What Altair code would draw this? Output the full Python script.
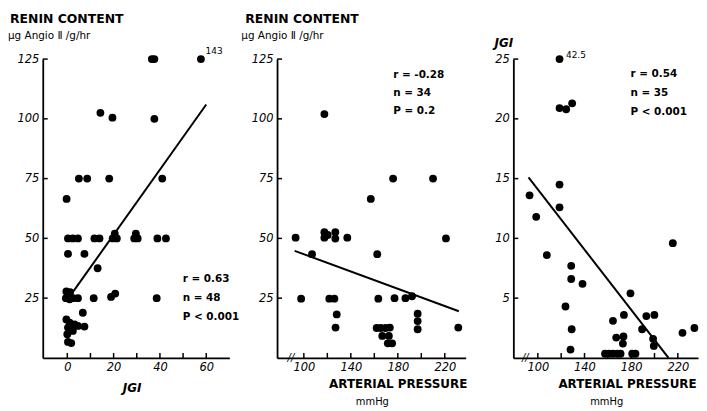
import altair as alt
import pandas as pd

# ---------------- Panel A: renin content vs JGI ----------------
a_jgi = [36.5, 37.6, 57.7,
         14.3, 19.5, 37.6,
         5.0, 8.6, 18.1, 41.0,
         -0.3,
         0.3, 2.4, 4.6, 11.7, 13.9, 19.6, 21.4, 20.5, 28.9, 30.4, 29.6, 38.9, 42.6,
         0.3, 7.4,
         13.1,
         -0.4, 1.2, -0.6, 1.0, 2.6, 4.6, 11.4, 18.9, 20.7, 38.6,
         6.7, -0.4, 1.0, 3.1, 4.6, 7.4, 0.3, 2.4, 0.0, 0.3, 1.7]
a_renin = [125, 125, 125,
           102.5, 100.5, 100,
           75, 75, 75, 75,
           66.5,
           50, 50, 50, 50, 50, 50, 50, 52, 50, 50, 52, 50, 50,
           43.5, 43.5,
           37.5,
           27.8, 27.5, 25, 24.5, 25, 25, 25, 25.5, 26.9, 25,
           18.9, 16.1, 14.7, 14.0, 13.4, 13.1, 12.7, 11.3, 9.9, 6.7, 6.2]
a_fit_x = [2, 60]
a_fit_y = [27, 106]
a_xticks = [0, 10, 20, 30, 40, 50, 60]
a_xlabels = [0, 20, 40, 60]
a_yticks = [25, 50, 75, 100, 125]

# ---------------- Panel B: renin content vs arterial pressure ----------------
b_bp = [117.5, 176, 210, 157,
        93, 117.5, 117.5, 120.3, 126.8, 126.8, 137,
        107, 162.5,
        97.7, 121.7, 126, 128, 127,
        163.4, 177.2, 186.5, 192.1,
        196.9, 196.9, 196.9,
        231.5,
        162, 165.4, 169.6, 173.2, 166.8, 172.4, 171.5, 175.2,
        221]
b_renin = [102, 75, 75, 66.5,
           50.3, 52.6, 50.3, 51.4, 52.6, 49.9, 50.3,
           43.4, 43.4,
           24.8, 24.8, 24.8, 18.2, 12.7,
           24.8, 25, 25, 25.8,
           18.5, 15.4, 12,
           12.7,
           12.5, 12.5, 12.5, 12.7, 9.2, 9.2, 6.1, 6.1,
           50]
b_fit_x = [92.2, 232]
b_fit_y = [44.8, 19.5]
b_xticks = [100, 120, 140, 160, 180, 200, 220]
b_xlabels = [100, 140, 180, 220]
b_yticks = [25, 50, 75, 100, 125]

# ---------------- Panel C: JGI vs arterial pressure ----------------
c_bp = [118.6, 118.6, 124.3, 129.4,
        118.6, 92.9, 98.6, 118.6, 107.7, 128.6, 128.6, 138.3, 123.7, 129, 128,
        215.7, 179.4, 164.4, 173.8, 193, 199.9, 189.4,
        167.2, 173.4, 172.9, 198.8, 199.4, 224, 234.2,
        157.6, 161, 164.4, 168.1, 170.9, 180.9, 183.7]
c_jgi = [25, 20.9, 20.8, 21.3,
         14.5, 13.6, 11.8, 12.6, 8.6, 7.7, 6.6, 6.2, 4.3, 2.4, 0.7,
         9.6, 5.4, 3.1, 3.6, 3.5, 3.6, 2.4,
         1.7, 1.8, 1.2, 1.6, 1.0, 2.1, 2.5,
         0.35, 0.35, 0.35, 0.35, 0.35, 0.35, 0.35]
c_fit_x = [92, 212]
c_fit_y = [15.1, 0.0]
c_xticks = [100, 120, 140, 160, 180, 200, 220]
c_xlabels = [100, 140, 180, 220]
c_yticks = [5, 10, 15, 20, 25]

FONT = "DejaVu Sans"
H = 301


def text_layer(s, x, y, size, weight="normal", style="normal", align="left", baseline="middle"):
    return alt.Chart(pd.DataFrame({"label": [s]})).mark_text(
        align=align, baseline=baseline, fontSize=size, fontWeight=weight,
        fontStyle=style, font=FONT, color="black"
    ).encode(x=alt.value(x), y=alt.value(y), text="label:N")


def panel(xs, ys, fx, fy, xdom, ydom, w, xticks, xlabels, yticks, texts):
    xscale = alt.Scale(domain=xdom, nice=False, zero=False)
    yscale = alt.Scale(domain=ydom, nice=False, zero=False)
    xaxis = alt.Axis(values=xlabels, title=None, format="d")
    yaxis = alt.Axis(values=yticks, title=None, format="d")
    pts = alt.Chart(pd.DataFrame({"x": xs, "y": ys})).mark_circle(
        size=62, color="black", opacity=1
    ).encode(x=alt.X("x:Q", scale=xscale, axis=xaxis),
             y=alt.Y("y:Q", scale=yscale, axis=yaxis))
    fit = alt.Chart(pd.DataFrame({"x": fx, "y": fy})).mark_line(
        color="black", strokeWidth=2
    ).encode(x=alt.X("x:Q", scale=xscale, axis=xaxis),
             y=alt.Y("y:Q", scale=yscale, axis=yaxis))
    xt = alt.Chart(pd.DataFrame({"x": xticks})).mark_rule(
        color="black", strokeWidth=1.5
    ).encode(x=alt.X("x:Q", scale=xscale, axis=xaxis),
             y=alt.value(H), y2=alt.value(H - 5))
    yt = alt.Chart(pd.DataFrame({"y": yticks})).mark_rule(
        color="black", strokeWidth=1.5
    ).encode(y=alt.Y("y:Q", scale=yscale, axis=yaxis),
             x=alt.value(0), x2=alt.value(5))
    layers = [pts, fit, xt, yt] + texts
    return alt.layer(*layers).properties(width=w, height=H)


pA = panel(
    a_jgi, a_renin, a_fit_x, a_fit_y, [-10.6, 70], [0, 125], 188,
    a_xticks, a_xlabels, a_yticks,
    [
        text_layer("RENIN CONTENT", -33, -46, 12.5, weight="bold", baseline="top"),
        text_layer("μg Angio Ⅱ /g/hr", -35, -23, 10.5),
        text_layer("143", 164, -8, 9),
        text_layer("r = 0.63", 141, 222, 10.5, weight="bold"),
        text_layer("n = 48", 141, 241, 10.5, weight="bold"),
        text_layer("P < 0.001", 141, 260, 10.5, weight="bold"),
        text_layer("JGI", 90, 331, 12, weight="bold", style="italic", align="center"),
    ],
)

pB = panel(
    b_bp, b_renin, b_fit_x, b_fit_y, [77.2, 237.8], [0, 125], 190,
    b_xticks, b_xlabels, b_yticks,
    [
        text_layer("RENIN CONTENT", -32, -46, 12.5, weight="bold", baseline="top"),
        text_layer("μg Angio Ⅱ /g/hr", -36, -23, 10.5),
        text_layer("r = -0.28", 117, 15.7, 10.5, weight="bold"),
        text_layer("n = 34", 117, 33.7, 10.5, weight="bold"),
        text_layer("P = 0.2", 117, 52.3, 10.5, weight="bold"),
        text_layer("//", 14, H, 10, style="italic", align="center"),
        text_layer("ARTERIAL PRESSURE", 122, 327, 12, weight="bold", align="center"),
        text_layer("mmHg", 96, 345, 10, align="center"),
    ],
)

pC = panel(
    c_bp, c_jgi, c_fit_x, c_fit_y, [79, 237.3], [0, 25], 186,
    c_xticks, c_xlabels, c_yticks,
    [
        text_layer("JGI", -19, -16, 12, weight="bold", style="italic"),
        text_layer("42.5", 53, -4.5, 9),
        text_layer("r = 0.54", 118, 14.7, 10.5, weight="bold"),
        text_layer("n = 35", 118, 33.7, 10.5, weight="bold"),
        text_layer("P < 0.001", 118, 53, 10.5, weight="bold"),
        text_layer("//", 12, H, 10, style="italic", align="center"),
        text_layer("ARTERIAL PRESSURE", 115, 327, 12, weight="bold", align="center"),
        text_layer("mmHg", 94, 345, 10, align="center"),
    ],
)

chart = alt.hconcat(pA, pB, pC, spacing=48, bounds="flush").properties(
    padding={"left": 0, "top": 4, "right": 0, "bottom": 0},
    background="white",
).configure_view(stroke=None).configure_axis(
    domainColor="black", domainWidth=1.8, ticks=False, tickSize=0, grid=False,
    labelColor="black", labelFont=FONT, labelFontSize=11.5, labelFontStyle="italic",
).configure_axisX(labelPadding=4).configure_axisY(labelPadding=4)

chart.save("out.html", embed_options={"renderer": "svg", "actions": False})
